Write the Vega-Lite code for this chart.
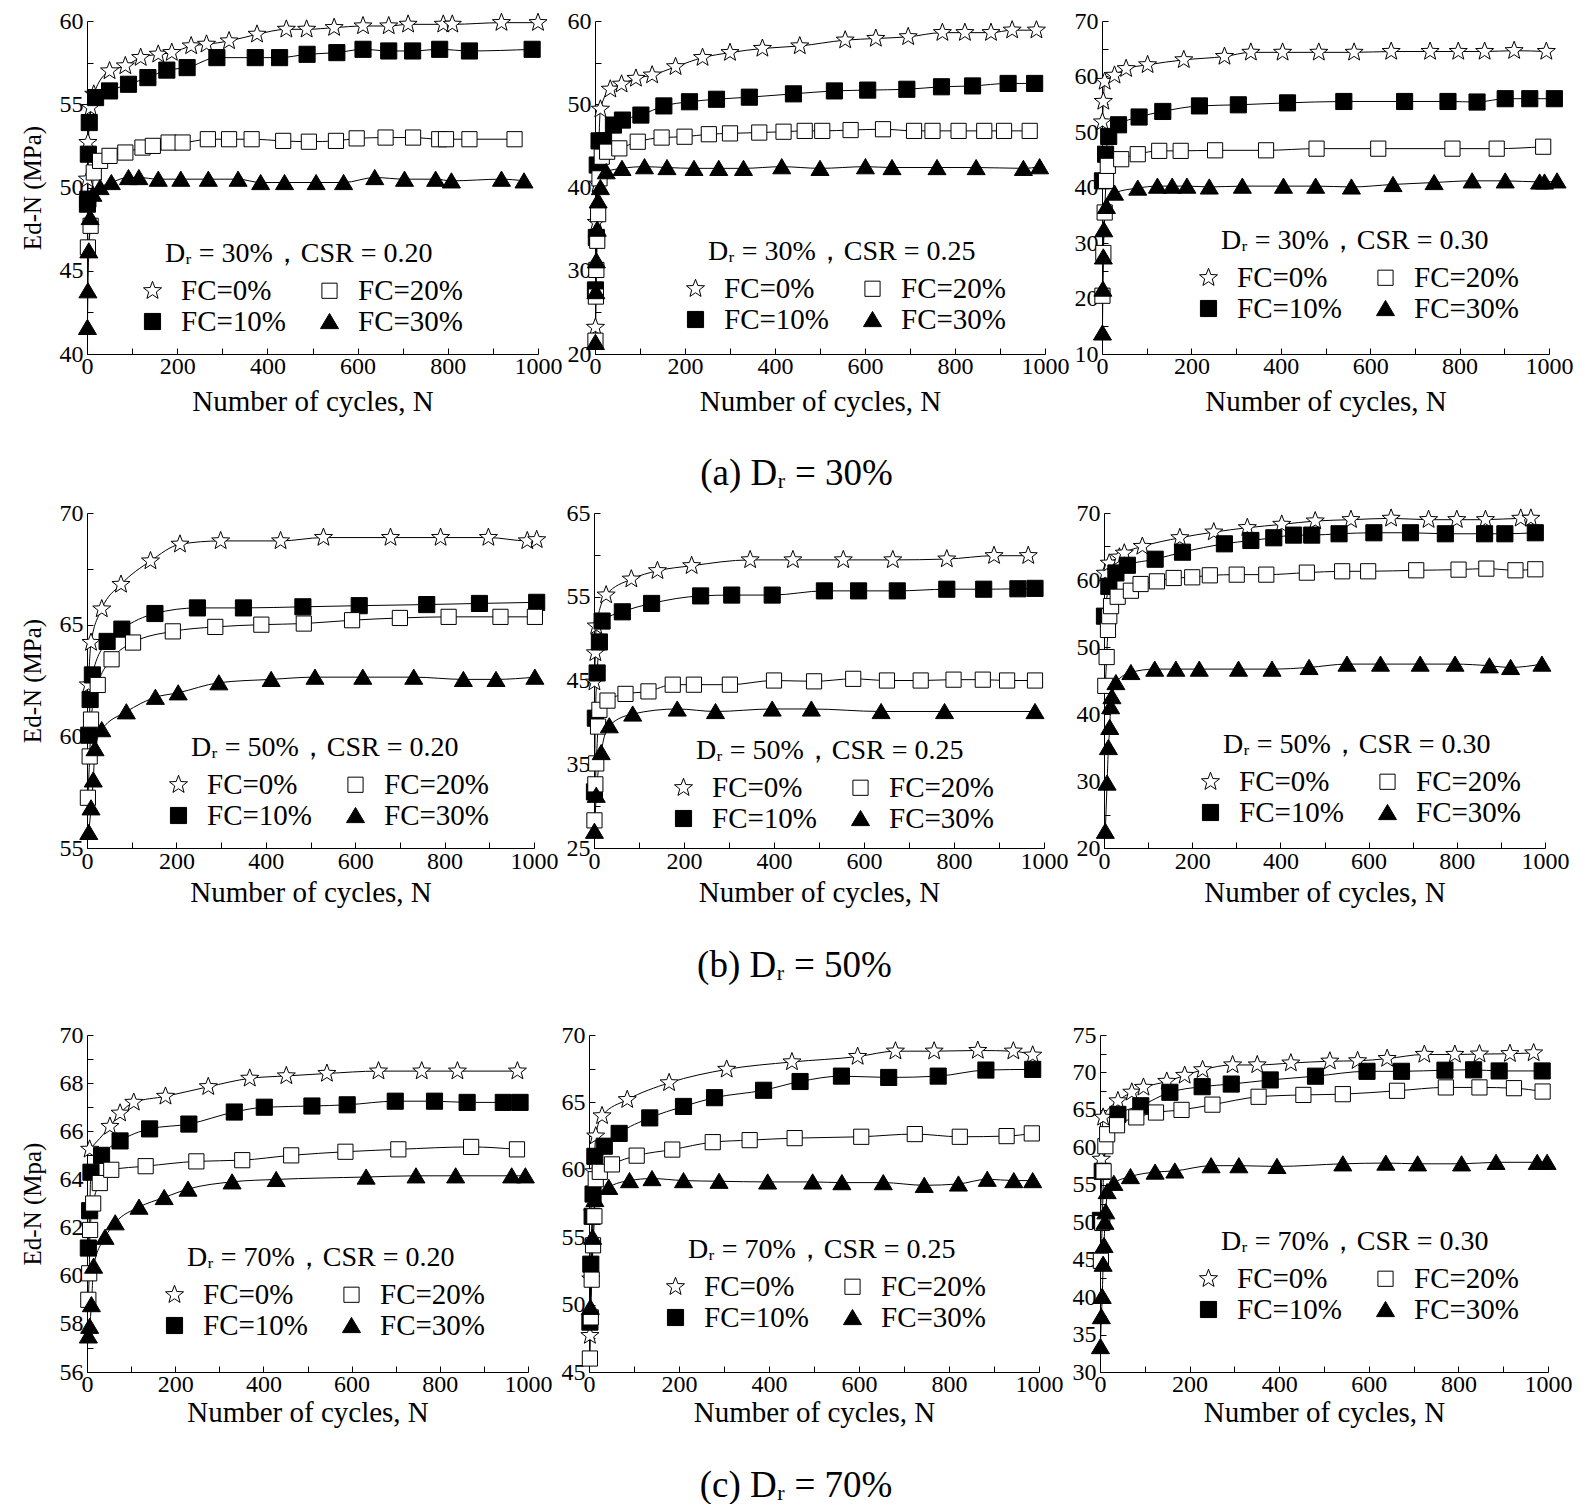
{
  "$schema": "https://vega.github.io/schema/vega-lite/v6.json",
  "background": "white",
  "padding": {"left": 20, "top": 9, "right": 5, "bottom": 0},
  "config": {
    "view": {"stroke": null},
    "font": "Liberation Serif",
    "axis": {
      "domainColor": "black", "domainWidth": 1, "tickColor": "black", "tickWidth": 1, "tickSize": -6,
      "labelFont": "Liberation Serif", "labelFontSize": 24, "labelColor": "black",
      "titleFont": "Liberation Serif", "titleFontSize": 29, "titleFontWeight": "normal", "titleColor": "black",
      "grid": false, "labelOverlap": false, "labelFlush": false
    },
    "axisX": {"labelPadding": 6, "titlePadding": 10},
    "axisY": {"labelPadding": 10, "titlePadding": 14, "titleFontSize": 25},
    "legend": {
      "orient": "none", "columns": 2, "padding": 0, "columnPadding": 29, "rowPadding": 1,
      "symbolSize": 360, "symbolStrokeColor": "black", "symbolStrokeWidth": 1, "symbolOpacity": 1,
      "labelFont": "Liberation Serif", "labelFontSize": 29, "labelColor": "black", "labelOffset": 14, "labelLimit": 250,
      "titleFont": "Liberation Serif", "titleFontSize": 28, "titleFontWeight": "normal", "titleColor": "black",
      "titleAnchor": "start", "titlePadding": 8, "titleLimit": 450
    }
  },
  "data": {"values": [
    {"p":"a1","f":0,"N":1,"E":50.5},{"p":"a1","f":0,"N":2,"E":52.7},{"p":"a1","f":0,"N":8,"E":54.8},{"p":"a1","f":0,"N":15,"E":55.6},{"p":"a1","f":0,"N":50,"E":57.0},{"p":"a1","f":0,"N":85,"E":57.3},{"p":"a1","f":0,"N":119,"E":57.8},{"p":"a1","f":0,"N":158,"E":58.0},{"p":"a1","f":0,"N":188,"E":58.1},{"p":"a1","f":0,"N":231,"E":58.5},{"p":"a1","f":0,"N":265,"E":58.6},{"p":"a1","f":0,"N":315,"E":58.8},{"p":"a1","f":0,"N":377,"E":59.2},{"p":"a1","f":0,"N":442,"E":59.5},{"p":"a1","f":0,"N":487,"E":59.5},{"p":"a1","f":0,"N":548,"E":59.6},{"p":"a1","f":0,"N":612,"E":59.7},{"p":"a1","f":0,"N":669,"E":59.7},{"p":"a1","f":0,"N":712,"E":59.8},{"p":"a1","f":0,"N":790,"E":59.8},{"p":"a1","f":0,"N":810,"E":59.8},{"p":"a1","f":0,"N":919,"E":59.9},{"p":"a1","f":0,"N":1000,"E":59.9},
    {"p":"a1","f":10,"N":1,"E":49.0},{"p":"a1","f":10,"N":2,"E":49.3},{"p":"a1","f":10,"N":3,"E":52.0},{"p":"a1","f":10,"N":5,"E":53.9},{"p":"a1","f":10,"N":19,"E":55.4},{"p":"a1","f":10,"N":50,"E":55.8},{"p":"a1","f":10,"N":92,"E":56.2},{"p":"a1","f":10,"N":135,"E":56.6},{"p":"a1","f":10,"N":177,"E":57.05},{"p":"a1","f":10,"N":222,"E":57.2},{"p":"a1","f":10,"N":288,"E":57.8},{"p":"a1","f":10,"N":373,"E":57.8},{"p":"a1","f":10,"N":427,"E":57.8},{"p":"a1","f":10,"N":488,"E":58.0},{"p":"a1","f":10,"N":554,"E":58.1},{"p":"a1","f":10,"N":612,"E":58.3},{"p":"a1","f":10,"N":669,"E":58.2},{"p":"a1","f":10,"N":722,"E":58.2},{"p":"a1","f":10,"N":782,"E":58.3},{"p":"a1","f":10,"N":848,"E":58.2},{"p":"a1","f":10,"N":987,"E":58.3},
    {"p":"a1","f":20,"N":2,"E":46.4},{"p":"a1","f":20,"N":8,"E":47.7},{"p":"a1","f":20,"N":15,"E":50.9},{"p":"a1","f":20,"N":29,"E":51.6},{"p":"a1","f":20,"N":50,"E":51.9},{"p":"a1","f":20,"N":85,"E":52.1},{"p":"a1","f":20,"N":123,"E":52.4},{"p":"a1","f":20,"N":146,"E":52.5},{"p":"a1","f":20,"N":181,"E":52.7},{"p":"a1","f":20,"N":212,"E":52.7},{"p":"a1","f":20,"N":268,"E":52.9},{"p":"a1","f":20,"N":315,"E":52.9},{"p":"a1","f":20,"N":365,"E":52.9},{"p":"a1","f":20,"N":435,"E":52.8},{"p":"a1","f":20,"N":492,"E":52.75},{"p":"a1","f":20,"N":552,"E":52.8},{"p":"a1","f":20,"N":598,"E":52.95},{"p":"a1","f":20,"N":662,"E":53.0},{"p":"a1","f":20,"N":723,"E":53.0},{"p":"a1","f":20,"N":781,"E":52.9},{"p":"a1","f":20,"N":796,"E":52.9},{"p":"a1","f":20,"N":848,"E":52.9},{"p":"a1","f":20,"N":948,"E":52.9},
    {"p":"a1","f":30,"N":1,"E":41.6},{"p":"a1","f":30,"N":2,"E":43.8},{"p":"a1","f":30,"N":4,"E":46.2},{"p":"a1","f":30,"N":7,"E":48.2},{"p":"a1","f":30,"N":13,"E":49.6},{"p":"a1","f":30,"N":29,"E":50.0},{"p":"a1","f":30,"N":54,"E":50.3},{"p":"a1","f":30,"N":92,"E":50.6},{"p":"a1","f":30,"N":115,"E":50.6},{"p":"a1","f":30,"N":158,"E":50.5},{"p":"a1","f":30,"N":208,"E":50.5},{"p":"a1","f":30,"N":269,"E":50.5},{"p":"a1","f":30,"N":335,"E":50.5},{"p":"a1","f":30,"N":385,"E":50.3},{"p":"a1","f":30,"N":438,"E":50.3},{"p":"a1","f":30,"N":508,"E":50.3},{"p":"a1","f":30,"N":569,"E":50.3},{"p":"a1","f":30,"N":638,"E":50.6},{"p":"a1","f":30,"N":704,"E":50.5},{"p":"a1","f":30,"N":773,"E":50.5},{"p":"a1","f":30,"N":808,"E":50.4},{"p":"a1","f":30,"N":919,"E":50.5},{"p":"a1","f":30,"N":969,"E":50.4},

    {"p":"a2","f":0,"N":1,"E":23.2},{"p":"a2","f":0,"N":3,"E":35.8},{"p":"a2","f":0,"N":6,"E":40.4},{"p":"a2","f":0,"N":12,"E":49.4},{"p":"a2","f":0,"N":34,"E":51.8},{"p":"a2","f":0,"N":59,"E":52.4},{"p":"a2","f":0,"N":91,"E":53.1},{"p":"a2","f":0,"N":127,"E":53.5},{"p":"a2","f":0,"N":179,"E":54.5},{"p":"a2","f":0,"N":239,"E":55.6},{"p":"a2","f":0,"N":300,"E":56.2},{"p":"a2","f":0,"N":372,"E":56.7},{"p":"a2","f":0,"N":455,"E":57.0},{"p":"a2","f":0,"N":556,"E":57.7},{"p":"a2","f":0,"N":624,"E":57.9},{"p":"a2","f":0,"N":696,"E":58.1},{"p":"a2","f":0,"N":772,"E":58.6},{"p":"a2","f":0,"N":822,"E":58.6},{"p":"a2","f":0,"N":880,"E":58.6},{"p":"a2","f":0,"N":927,"E":58.9},{"p":"a2","f":0,"N":981,"E":58.9},
    {"p":"a2","f":10,"N":1,"E":27.7},{"p":"a2","f":10,"N":3,"E":34.0},{"p":"a2","f":10,"N":5,"E":42.7},{"p":"a2","f":10,"N":9,"E":45.6},{"p":"a2","f":10,"N":19,"E":45.6},{"p":"a2","f":10,"N":41,"E":47.5},{"p":"a2","f":10,"N":61,"E":48.1},{"p":"a2","f":10,"N":102,"E":48.7},{"p":"a2","f":10,"N":153,"E":49.8},{"p":"a2","f":10,"N":210,"E":50.3},{"p":"a2","f":10,"N":270,"E":50.6},{"p":"a2","f":10,"N":343,"E":50.85},{"p":"a2","f":10,"N":441,"E":51.25},{"p":"a2","f":10,"N":532,"E":51.6},{"p":"a2","f":10,"N":606,"E":51.7},{"p":"a2","f":10,"N":693,"E":51.8},{"p":"a2","f":10,"N":770,"E":52.1},{"p":"a2","f":10,"N":839,"E":52.2},{"p":"a2","f":10,"N":918,"E":52.5},{"p":"a2","f":10,"N":977,"E":52.5},
    {"p":"a2","f":20,"N":1,"E":21.6},{"p":"a2","f":20,"N":2,"E":26.9},{"p":"a2","f":20,"N":3,"E":30.1},{"p":"a2","f":20,"N":5,"E":33.6},{"p":"a2","f":20,"N":7,"E":36.8},{"p":"a2","f":20,"N":10,"E":41.1},{"p":"a2","f":20,"N":15,"E":43.7},{"p":"a2","f":20,"N":27,"E":44.3},{"p":"a2","f":20,"N":54,"E":44.7},{"p":"a2","f":20,"N":95,"E":45.5},{"p":"a2","f":20,"N":148,"E":46.0},{"p":"a2","f":20,"N":199,"E":46.1},{"p":"a2","f":20,"N":253,"E":46.4},{"p":"a2","f":20,"N":300,"E":46.5},{"p":"a2","f":20,"N":365,"E":46.6},{"p":"a2","f":20,"N":419,"E":46.7},{"p":"a2","f":20,"N":466,"E":46.8},{"p":"a2","f":20,"N":505,"E":46.8},{"p":"a2","f":20,"N":568,"E":46.9},{"p":"a2","f":20,"N":640,"E":47.0},{"p":"a2","f":20,"N":709,"E":46.8},{"p":"a2","f":20,"N":750,"E":46.8},{"p":"a2","f":20,"N":808,"E":46.8},{"p":"a2","f":20,"N":865,"E":46.8},{"p":"a2","f":20,"N":909,"E":46.8},{"p":"a2","f":20,"N":966,"E":46.8},
    {"p":"a2","f":30,"N":1,"E":21.4},{"p":"a2","f":30,"N":2,"E":27.5},{"p":"a2","f":30,"N":3,"E":31.2},{"p":"a2","f":30,"N":5,"E":35.0},{"p":"a2","f":30,"N":7,"E":38.4},{"p":"a2","f":30,"N":12,"E":40.0},{"p":"a2","f":30,"N":25,"E":41.9},{"p":"a2","f":30,"N":60,"E":42.3},{"p":"a2","f":30,"N":110,"E":42.5},{"p":"a2","f":30,"N":160,"E":42.4},{"p":"a2","f":30,"N":220,"E":42.3},{"p":"a2","f":30,"N":275,"E":42.3},{"p":"a2","f":30,"N":330,"E":42.3},{"p":"a2","f":30,"N":415,"E":42.5},{"p":"a2","f":30,"N":500,"E":42.3},{"p":"a2","f":30,"N":601,"E":42.5},{"p":"a2","f":30,"N":660,"E":42.4},{"p":"a2","f":30,"N":760,"E":42.4},{"p":"a2","f":30,"N":847,"E":42.4},{"p":"a2","f":30,"N":952,"E":42.3},{"p":"a2","f":30,"N":988,"E":42.5},

    {"p":"a3","f":0,"N":1,"E":51.8},{"p":"a3","f":0,"N":3,"E":55.5},{"p":"a3","f":0,"N":6,"E":59.1},{"p":"a3","f":0,"N":28,"E":60.2},{"p":"a3","f":0,"N":54,"E":61.4},{"p":"a3","f":0,"N":102,"E":62.1},{"p":"a3","f":0,"N":183,"E":63.0},{"p":"a3","f":0,"N":274,"E":63.6},{"p":"a3","f":0,"N":333,"E":64.35},{"p":"a3","f":0,"N":404,"E":64.35},{"p":"a3","f":0,"N":485,"E":64.35},{"p":"a3","f":0,"N":564,"E":64.35},{"p":"a3","f":0,"N":647,"E":64.5},{"p":"a3","f":0,"N":734,"E":64.5},{"p":"a3","f":0,"N":797,"E":64.5},{"p":"a3","f":0,"N":856,"E":64.5},{"p":"a3","f":0,"N":922,"E":64.65},{"p":"a3","f":0,"N":994,"E":64.5},
    {"p":"a3","f":10,"N":1,"E":41.2},{"p":"a3","f":10,"N":8,"E":46.0},{"p":"a3","f":10,"N":15,"E":49.2},{"p":"a3","f":10,"N":37,"E":51.3},{"p":"a3","f":10,"N":83,"E":52.7},{"p":"a3","f":10,"N":136,"E":53.7},{"p":"a3","f":10,"N":218,"E":54.7},{"p":"a3","f":10,"N":305,"E":54.9},{"p":"a3","f":10,"N":415,"E":55.25},{"p":"a3","f":10,"N":541,"E":55.5},{"p":"a3","f":10,"N":677,"E":55.5},{"p":"a3","f":10,"N":774,"E":55.5},{"p":"a3","f":10,"N":839,"E":55.4},{"p":"a3","f":10,"N":902,"E":56.0},{"p":"a3","f":10,"N":957,"E":56.0},{"p":"a3","f":10,"N":1012,"E":56.0},
    {"p":"a3","f":20,"N":1,"E":20.5},{"p":"a3","f":20,"N":3,"E":28.2},{"p":"a3","f":20,"N":6,"E":35.5},{"p":"a3","f":20,"N":9,"E":41.2},{"p":"a3","f":20,"N":13,"E":43.9},{"p":"a3","f":20,"N":43,"E":45.1},{"p":"a3","f":20,"N":80,"E":46.0},{"p":"a3","f":20,"N":128,"E":46.6},{"p":"a3","f":20,"N":176,"E":46.6},{"p":"a3","f":20,"N":253,"E":46.7},{"p":"a3","f":20,"N":367,"E":46.7},{"p":"a3","f":20,"N":480,"E":47.0},{"p":"a3","f":20,"N":618,"E":47.0},{"p":"a3","f":20,"N":784,"E":47.0},{"p":"a3","f":20,"N":883,"E":47.0},{"p":"a3","f":20,"N":987,"E":47.35},
    {"p":"a3","f":30,"N":1,"E":13.8},{"p":"a3","f":30,"N":2,"E":21.7},{"p":"a3","f":30,"N":3,"E":27.5},{"p":"a3","f":30,"N":4,"E":32.4},{"p":"a3","f":30,"N":10,"E":36.6},{"p":"a3","f":30,"N":28,"E":39.0},{"p":"a3","f":30,"N":80,"E":39.9},{"p":"a3","f":30,"N":124,"E":40.25},{"p":"a3","f":30,"N":157,"E":40.25},{"p":"a3","f":30,"N":190,"E":40.25},{"p":"a3","f":30,"N":240,"E":40.1},{"p":"a3","f":30,"N":314,"E":40.25},{"p":"a3","f":30,"N":406,"E":40.25},{"p":"a3","f":30,"N":478,"E":40.25},{"p":"a3","f":30,"N":558,"E":40.1},{"p":"a3","f":30,"N":651,"E":40.55},{"p":"a3","f":30,"N":743,"E":40.9},{"p":"a3","f":30,"N":828,"E":41.2},{"p":"a3","f":30,"N":902,"E":41.2},{"p":"a3","f":30,"N":979,"E":41.0},{"p":"a3","f":30,"N":990,"E":41.0},{"p":"a3","f":30,"N":1018,"E":41.2},

    {"p":"b1","f":0,"N":3,"E":62.3},{"p":"b1","f":0,"N":9,"E":64.2},{"p":"b1","f":0,"N":33,"E":65.7},{"p":"b1","f":0,"N":76,"E":66.8},{"p":"b1","f":0,"N":142,"E":67.85},{"p":"b1","f":0,"N":208,"E":68.6},{"p":"b1","f":0,"N":299,"E":68.75},{"p":"b1","f":0,"N":433,"E":68.75},{"p":"b1","f":0,"N":529,"E":68.9},{"p":"b1","f":0,"N":679,"E":68.9},{"p":"b1","f":0,"N":791,"E":68.9},{"p":"b1","f":0,"N":898,"E":68.9},{"p":"b1","f":0,"N":985,"E":68.75},{"p":"b1","f":0,"N":1006,"E":68.8},
    {"p":"b1","f":10,"N":4,"E":60.05},{"p":"b1","f":10,"N":7,"E":61.65},{"p":"b1","f":10,"N":12,"E":62.75},{"p":"b1","f":10,"N":45,"E":64.25},{"p":"b1","f":10,"N":78,"E":64.8},{"p":"b1","f":10,"N":152,"E":65.5},{"p":"b1","f":10,"N":247,"E":65.75},{"p":"b1","f":10,"N":350,"E":65.75},{"p":"b1","f":10,"N":483,"E":65.8},{"p":"b1","f":10,"N":609,"E":65.85},{"p":"b1","f":10,"N":760,"E":65.9},{"p":"b1","f":10,"N":878,"E":65.95},{"p":"b1","f":10,"N":1006,"E":66.0},
    {"p":"b1","f":20,"N":2,"E":57.25},{"p":"b1","f":20,"N":6,"E":59.1},{"p":"b1","f":20,"N":9,"E":60.75},{"p":"b1","f":20,"N":24,"E":62.3},{"p":"b1","f":20,"N":55,"E":63.45},{"p":"b1","f":20,"N":103,"E":64.2},{"p":"b1","f":20,"N":192,"E":64.7},{"p":"b1","f":20,"N":287,"E":64.9},{"p":"b1","f":20,"N":390,"E":65.0},{"p":"b1","f":20,"N":485,"E":65.05},{"p":"b1","f":20,"N":593,"E":65.2},{"p":"b1","f":20,"N":700,"E":65.3},{"p":"b1","f":20,"N":809,"E":65.35},{"p":"b1","f":20,"N":925,"E":65.35},{"p":"b1","f":20,"N":1002,"E":65.35},
    {"p":"b1","f":30,"N":4,"E":55.7},{"p":"b1","f":30,"N":9,"E":56.8},{"p":"b1","f":30,"N":14,"E":58.05},{"p":"b1","f":30,"N":18,"E":59.45},{"p":"b1","f":30,"N":33,"E":60.3},{"p":"b1","f":30,"N":88,"E":61.1},{"p":"b1","f":30,"N":153,"E":61.75},{"p":"b1","f":30,"N":204,"E":61.95},{"p":"b1","f":30,"N":295,"E":62.4},{"p":"b1","f":30,"N":412,"E":62.55},{"p":"b1","f":30,"N":510,"E":62.65},{"p":"b1","f":30,"N":617,"E":62.65},{"p":"b1","f":30,"N":731,"E":62.65},{"p":"b1","f":30,"N":842,"E":62.55},{"p":"b1","f":30,"N":915,"E":62.55},{"p":"b1","f":30,"N":1002,"E":62.65},

    {"p":"b2","f":0,"N":1,"E":44.8},{"p":"b2","f":0,"N":3,"E":48.3},{"p":"b2","f":0,"N":5,"E":51.5},{"p":"b2","f":0,"N":27,"E":55.2},{"p":"b2","f":0,"N":83,"E":57.1},{"p":"b2","f":0,"N":141,"E":58.1},{"p":"b2","f":0,"N":217,"E":58.7},{"p":"b2","f":0,"N":347,"E":59.4},{"p":"b2","f":0,"N":442,"E":59.4},{"p":"b2","f":0,"N":554,"E":59.4},{"p":"b2","f":0,"N":664,"E":59.4},{"p":"b2","f":0,"N":784,"E":59.5},{"p":"b2","f":0,"N":889,"E":59.9},{"p":"b2","f":0,"N":965,"E":59.9},
    {"p":"b2","f":10,"N":1,"E":31.7},{"p":"b2","f":10,"N":3,"E":40.5},{"p":"b2","f":10,"N":7,"E":45.9},{"p":"b2","f":10,"N":12,"E":49.6},{"p":"b2","f":10,"N":18,"E":52.1},{"p":"b2","f":10,"N":63,"E":53.2},{"p":"b2","f":10,"N":128,"E":54.2},{"p":"b2","f":10,"N":237,"E":55.1},{"p":"b2","f":10,"N":306,"E":55.2},{"p":"b2","f":10,"N":396,"E":55.2},{"p":"b2","f":10,"N":512,"E":55.7},{"p":"b2","f":10,"N":588,"E":55.7},{"p":"b2","f":10,"N":674,"E":55.7},{"p":"b2","f":10,"N":784,"E":55.9},{"p":"b2","f":10,"N":866,"E":55.9},{"p":"b2","f":10,"N":942,"E":55.95},{"p":"b2","f":10,"N":980,"E":56.0},
    {"p":"b2","f":20,"N":1,"E":28.3},{"p":"b2","f":20,"N":3,"E":32.6},{"p":"b2","f":20,"N":5,"E":35.1},{"p":"b2","f":20,"N":9,"E":39.5},{"p":"b2","f":20,"N":12,"E":41.5},{"p":"b2","f":20,"N":30,"E":42.6},{"p":"b2","f":20,"N":70,"E":43.4},{"p":"b2","f":20,"N":121,"E":43.7},{"p":"b2","f":20,"N":175,"E":44.5},{"p":"b2","f":20,"N":222,"E":44.5},{"p":"b2","f":20,"N":302,"E":44.5},{"p":"b2","f":20,"N":400,"E":45.0},{"p":"b2","f":20,"N":489,"E":44.9},{"p":"b2","f":20,"N":576,"E":45.2},{"p":"b2","f":20,"N":651,"E":45.0},{"p":"b2","f":20,"N":726,"E":45.0},{"p":"b2","f":20,"N":799,"E":45.1},{"p":"b2","f":20,"N":864,"E":45.1},{"p":"b2","f":20,"N":918,"E":45.0},{"p":"b2","f":20,"N":980,"E":45.0},
    {"p":"b2","f":30,"N":1,"E":27.0},{"p":"b2","f":30,"N":5,"E":31.3},{"p":"b2","f":30,"N":16,"E":36.4},{"p":"b2","f":30,"N":34,"E":39.6},{"p":"b2","f":30,"N":86,"E":41.0},{"p":"b2","f":30,"N":185,"E":41.6},{"p":"b2","f":30,"N":270,"E":41.3},{"p":"b2","f":30,"N":396,"E":41.6},{"p":"b2","f":30,"N":483,"E":41.6},{"p":"b2","f":30,"N":638,"E":41.3},{"p":"b2","f":30,"N":779,"E":41.3},{"p":"b2","f":30,"N":980,"E":41.3},

    {"p":"b3","f":0,"N":3,"E":61.0},{"p":"b3","f":0,"N":12,"E":62.5},{"p":"b3","f":0,"N":35,"E":63.4},{"p":"b3","f":0,"N":46,"E":64.0},{"p":"b3","f":0,"N":87,"E":65.0},{"p":"b3","f":0,"N":172,"E":66.3},{"p":"b3","f":0,"N":249,"E":67.15},{"p":"b3","f":0,"N":325,"E":67.8},{"p":"b3","f":0,"N":403,"E":68.3},{"p":"b3","f":0,"N":479,"E":68.8},{"p":"b3","f":0,"N":560,"E":69.0},{"p":"b3","f":0,"N":651,"E":69.2},{"p":"b3","f":0,"N":736,"E":69.0},{"p":"b3","f":0,"N":800,"E":69.0},{"p":"b3","f":0,"N":865,"E":69.0},{"p":"b3","f":0,"N":945,"E":69.2},{"p":"b3","f":0,"N":968,"E":69.2},
    {"p":"b3","f":10,"N":1,"E":54.6},{"p":"b3","f":10,"N":11,"E":59.05},{"p":"b3","f":10,"N":27,"E":61.05},{"p":"b3","f":10,"N":53,"E":62.2},{"p":"b3","f":10,"N":116,"E":63.1},{"p":"b3","f":10,"N":178,"E":64.15},{"p":"b3","f":10,"N":273,"E":65.4},{"p":"b3","f":10,"N":333,"E":65.9},{"p":"b3","f":10,"N":385,"E":66.3},{"p":"b3","f":10,"N":430,"E":66.7},{"p":"b3","f":10,"N":471,"E":66.7},{"p":"b3","f":10,"N":533,"E":66.9},{"p":"b3","f":10,"N":612,"E":67.05},{"p":"b3","f":10,"N":695,"E":67.05},{"p":"b3","f":10,"N":774,"E":66.9},{"p":"b3","f":10,"N":863,"E":66.9},{"p":"b3","f":10,"N":909,"E":66.9},{"p":"b3","f":10,"N":978,"E":67.05},
    {"p":"b3","f":20,"N":3,"E":44.2},{"p":"b3","f":20,"N":6,"E":48.5},{"p":"b3","f":20,"N":9,"E":52.55},{"p":"b3","f":20,"N":12,"E":54.6},{"p":"b3","f":20,"N":16,"E":56.1},{"p":"b3","f":20,"N":31,"E":57.5},{"p":"b3","f":20,"N":61,"E":58.4},{"p":"b3","f":20,"N":83,"E":59.4},{"p":"b3","f":20,"N":120,"E":59.8},{"p":"b3","f":20,"N":158,"E":60.3},{"p":"b3","f":20,"N":200,"E":60.4},{"p":"b3","f":20,"N":240,"E":60.7},{"p":"b3","f":20,"N":301,"E":60.8},{"p":"b3","f":20,"N":368,"E":60.8},{"p":"b3","f":20,"N":460,"E":61.1},{"p":"b3","f":20,"N":540,"E":61.3},{"p":"b3","f":20,"N":599,"E":61.3},{"p":"b3","f":20,"N":708,"E":61.45},{"p":"b3","f":20,"N":804,"E":61.55},{"p":"b3","f":20,"N":867,"E":61.7},{"p":"b3","f":20,"N":933,"E":61.45},{"p":"b3","f":20,"N":978,"E":61.6},
    {"p":"b3","f":30,"N":3,"E":22.5},{"p":"b3","f":30,"N":7,"E":29.7},{"p":"b3","f":30,"N":10,"E":35.0},{"p":"b3","f":30,"N":13,"E":38.0},{"p":"b3","f":30,"N":15,"E":41.1},{"p":"b3","f":30,"N":18,"E":42.6},{"p":"b3","f":30,"N":27,"E":44.7},{"p":"b3","f":30,"N":61,"E":46.2},{"p":"b3","f":30,"N":115,"E":46.7},{"p":"b3","f":30,"N":163,"E":46.7},{"p":"b3","f":30,"N":216,"E":46.7},{"p":"b3","f":30,"N":305,"E":46.7},{"p":"b3","f":30,"N":381,"E":46.7},{"p":"b3","f":30,"N":465,"E":46.95},{"p":"b3","f":30,"N":551,"E":47.45},{"p":"b3","f":30,"N":627,"E":47.45},{"p":"b3","f":30,"N":717,"E":47.45},{"p":"b3","f":30,"N":796,"E":47.45},{"p":"b3","f":30,"N":874,"E":47.2},{"p":"b3","f":30,"N":922,"E":46.95},{"p":"b3","f":30,"N":993,"E":47.45},

    {"p":"c1","f":0,"N":6,"E":65.25},{"p":"c1","f":0,"N":52,"E":66.2},{"p":"c1","f":0,"N":75,"E":66.75},{"p":"c1","f":0,"N":106,"E":67.2},{"p":"c1","f":0,"N":178,"E":67.45},{"p":"c1","f":0,"N":275,"E":67.85},{"p":"c1","f":0,"N":369,"E":68.2},{"p":"c1","f":0,"N":452,"E":68.3},{"p":"c1","f":0,"N":544,"E":68.4},{"p":"c1","f":0,"N":661,"E":68.5},{"p":"c1","f":0,"N":759,"E":68.5},{"p":"c1","f":0,"N":840,"E":68.5},{"p":"c1","f":0,"N":976,"E":68.5},
    {"p":"c1","f":10,"N":3,"E":61.15},{"p":"c1","f":10,"N":6,"E":62.7},{"p":"c1","f":10,"N":9,"E":64.3},{"p":"c1","f":10,"N":33,"E":65.0},{"p":"c1","f":10,"N":75,"E":65.6},{"p":"c1","f":10,"N":142,"E":66.1},{"p":"c1","f":10,"N":231,"E":66.3},{"p":"c1","f":10,"N":334,"E":66.8},{"p":"c1","f":10,"N":402,"E":67.0},{"p":"c1","f":10,"N":510,"E":67.05},{"p":"c1","f":10,"N":590,"E":67.1},{"p":"c1","f":10,"N":699,"E":67.25},{"p":"c1","f":10,"N":788,"E":67.25},{"p":"c1","f":10,"N":862,"E":67.2},{"p":"c1","f":10,"N":944,"E":67.2},{"p":"c1","f":10,"N":982,"E":67.2},
    {"p":"c1","f":20,"N":3,"E":59.0},{"p":"c1","f":20,"N":5,"E":60.1},{"p":"c1","f":20,"N":7,"E":61.9},{"p":"c1","f":20,"N":14,"E":63.0},{"p":"c1","f":20,"N":29,"E":63.85},{"p":"c1","f":20,"N":55,"E":64.4},{"p":"c1","f":20,"N":133,"E":64.55},{"p":"c1","f":20,"N":248,"E":64.75},{"p":"c1","f":20,"N":352,"E":64.8},{"p":"c1","f":20,"N":463,"E":65.0},{"p":"c1","f":20,"N":586,"E":65.15},{"p":"c1","f":20,"N":706,"E":65.25},{"p":"c1","f":20,"N":871,"E":65.35},{"p":"c1","f":20,"N":975,"E":65.25},
    {"p":"c1","f":30,"N":3,"E":57.5},{"p":"c1","f":30,"N":6,"E":57.9},{"p":"c1","f":30,"N":10,"E":58.8},{"p":"c1","f":30,"N":15,"E":60.4},{"p":"c1","f":30,"N":41,"E":61.6},{"p":"c1","f":30,"N":64,"E":62.2},{"p":"c1","f":30,"N":118,"E":62.85},{"p":"c1","f":30,"N":175,"E":63.25},{"p":"c1","f":30,"N":229,"E":63.6},{"p":"c1","f":30,"N":329,"E":63.9},{"p":"c1","f":30,"N":429,"E":64.0},{"p":"c1","f":30,"N":633,"E":64.1},{"p":"c1","f":30,"N":746,"E":64.15},{"p":"c1","f":30,"N":836,"E":64.15},{"p":"c1","f":30,"N":963,"E":64.15},{"p":"c1","f":30,"N":994,"E":64.15},

    {"p":"c2","f":0,"N":2,"E":47.7},{"p":"c2","f":0,"N":4,"E":51.9},{"p":"c2","f":0,"N":8,"E":56.8},{"p":"c2","f":0,"N":11,"E":59.85},{"p":"c2","f":0,"N":15,"E":62.5},{"p":"c2","f":0,"N":29,"E":64.0},{"p":"c2","f":0,"N":85,"E":65.2},{"p":"c2","f":0,"N":178,"E":66.45},{"p":"c2","f":0,"N":306,"E":67.45},{"p":"c2","f":0,"N":451,"E":68.0},{"p":"c2","f":0,"N":597,"E":68.4},{"p":"c2","f":0,"N":681,"E":68.8},{"p":"c2","f":0,"N":767,"E":68.8},{"p":"c2","f":0,"N":864,"E":68.85},{"p":"c2","f":0,"N":943,"E":68.8},{"p":"c2","f":0,"N":986,"E":68.5},
    {"p":"c2","f":10,"N":2,"E":48.7},{"p":"c2","f":10,"N":4,"E":53.0},{"p":"c2","f":10,"N":7,"E":56.55},{"p":"c2","f":10,"N":9,"E":58.2},{"p":"c2","f":10,"N":13,"E":61.0},{"p":"c2","f":10,"N":34,"E":61.75},{"p":"c2","f":10,"N":67,"E":62.7},{"p":"c2","f":10,"N":135,"E":63.85},{"p":"c2","f":10,"N":210,"E":64.7},{"p":"c2","f":10,"N":279,"E":65.35},{"p":"c2","f":10,"N":388,"E":65.9},{"p":"c2","f":10,"N":469,"E":66.55},{"p":"c2","f":10,"N":561,"E":66.95},{"p":"c2","f":10,"N":666,"E":66.85},{"p":"c2","f":10,"N":776,"E":66.95},{"p":"c2","f":10,"N":882,"E":67.4},{"p":"c2","f":10,"N":986,"E":67.45},
    {"p":"c2","f":20,"N":2,"E":46.0},{"p":"c2","f":20,"N":4,"E":49.05},{"p":"c2","f":20,"N":6,"E":51.85},{"p":"c2","f":20,"N":9,"E":54.4},{"p":"c2","f":20,"N":12,"E":56.55},{"p":"c2","f":20,"N":15,"E":59.3},{"p":"c2","f":20,"N":24,"E":59.85},{"p":"c2","f":20,"N":51,"E":60.4},{"p":"c2","f":20,"N":106,"E":61.05},{"p":"c2","f":20,"N":185,"E":61.5},{"p":"c2","f":20,"N":275,"E":62.05},{"p":"c2","f":20,"N":357,"E":62.2},{"p":"c2","f":20,"N":457,"E":62.35},{"p":"c2","f":20,"N":605,"E":62.45},{"p":"c2","f":20,"N":724,"E":62.65},{"p":"c2","f":20,"N":824,"E":62.45},{"p":"c2","f":20,"N":928,"E":62.5},{"p":"c2","f":20,"N":984,"E":62.7},
    {"p":"c2","f":30,"N":3,"E":49.8},{"p":"c2","f":30,"N":8,"E":55.0},{"p":"c2","f":30,"N":13,"E":57.8},{"p":"c2","f":30,"N":44,"E":58.7},{"p":"c2","f":30,"N":90,"E":59.2},{"p":"c2","f":30,"N":140,"E":59.35},{"p":"c2","f":30,"N":210,"E":59.2},{"p":"c2","f":30,"N":289,"E":59.15},{"p":"c2","f":30,"N":397,"E":59.1},{"p":"c2","f":30,"N":497,"E":59.1},{"p":"c2","f":30,"N":562,"E":59.05},{"p":"c2","f":30,"N":654,"E":59.05},{"p":"c2","f":30,"N":745,"E":58.85},{"p":"c2","f":30,"N":821,"E":58.95},{"p":"c2","f":30,"N":885,"E":59.3},{"p":"c2","f":30,"N":944,"E":59.2},{"p":"c2","f":30,"N":986,"E":59.2},

    {"p":"c3","f":0,"N":3,"E":58.4},{"p":"c3","f":0,"N":7,"E":64.0},{"p":"c3","f":0,"N":40,"E":66.2},{"p":"c3","f":0,"N":71,"E":67.35},{"p":"c3","f":0,"N":97,"E":68.0},{"p":"c3","f":0,"N":149,"E":68.8},{"p":"c3","f":0,"N":189,"E":69.6},{"p":"c3","f":0,"N":229,"E":70.35},{"p":"c3","f":0,"N":296,"E":71.0},{"p":"c3","f":0,"N":351,"E":71.0},{"p":"c3","f":0,"N":426,"E":71.25},{"p":"c3","f":0,"N":513,"E":71.5},{"p":"c3","f":0,"N":575,"E":71.55},{"p":"c3","f":0,"N":641,"E":71.85},{"p":"c3","f":0,"N":724,"E":72.4},{"p":"c3","f":0,"N":792,"E":72.4},{"p":"c3","f":0,"N":847,"E":72.45},{"p":"c3","f":0,"N":915,"E":72.5},{"p":"c3","f":0,"N":968,"E":72.6},
    {"p":"c3","f":10,"N":1,"E":50.25},{"p":"c3","f":10,"N":5,"E":56.8},{"p":"c3","f":10,"N":40,"E":64.4},{"p":"c3","f":10,"N":91,"E":65.55},{"p":"c3","f":10,"N":156,"E":67.35},{"p":"c3","f":10,"N":228,"E":68.1},{"p":"c3","f":10,"N":293,"E":68.45},{"p":"c3","f":10,"N":380,"E":69.0},{"p":"c3","f":10,"N":481,"E":69.5},{"p":"c3","f":10,"N":596,"E":70.15},{"p":"c3","f":10,"N":673,"E":70.15},{"p":"c3","f":10,"N":770,"E":70.3},{"p":"c3","f":10,"N":834,"E":70.35},{"p":"c3","f":10,"N":891,"E":70.2},{"p":"c3","f":10,"N":987,"E":70.2},
    {"p":"c3","f":20,"N":2,"E":44.85},{"p":"c3","f":20,"N":5,"E":49.9},{"p":"c3","f":20,"N":8,"E":56.8},{"p":"c3","f":20,"N":12,"E":60.15},{"p":"c3","f":20,"N":16,"E":61.75},{"p":"c3","f":20,"N":38,"E":62.95},{"p":"c3","f":20,"N":81,"E":64.0},{"p":"c3","f":20,"N":125,"E":64.65},{"p":"c3","f":20,"N":182,"E":65.0},{"p":"c3","f":20,"N":251,"E":65.7},{"p":"c3","f":20,"N":354,"E":66.75},{"p":"c3","f":20,"N":454,"E":67.0},{"p":"c3","f":20,"N":542,"E":67.1},{"p":"c3","f":20,"N":663,"E":67.55},{"p":"c3","f":20,"N":772,"E":68.0},{"p":"c3","f":20,"N":847,"E":68.0},{"p":"c3","f":20,"N":924,"E":67.9},{"p":"c3","f":20,"N":988,"E":67.45},
    {"p":"c3","f":30,"N":1,"E":33.4},{"p":"c3","f":30,"N":3,"E":37.4},{"p":"c3","f":30,"N":5,"E":40.1},{"p":"c3","f":30,"N":7,"E":44.4},{"p":"c3","f":30,"N":9,"E":46.9},{"p":"c3","f":30,"N":11,"E":50.0},{"p":"c3","f":30,"N":13,"E":51.4},{"p":"c3","f":30,"N":16,"E":54.1},{"p":"c3","f":30,"N":31,"E":55.2},{"p":"c3","f":30,"N":68,"E":56.1},{"p":"c3","f":30,"N":123,"E":56.7},{"p":"c3","f":30,"N":167,"E":56.85},{"p":"c3","f":30,"N":248,"E":57.55},{"p":"c3","f":30,"N":310,"E":57.55},{"p":"c3","f":30,"N":395,"E":57.45},{"p":"c3","f":30,"N":542,"E":57.8},{"p":"c3","f":30,"N":638,"E":57.9},{"p":"c3","f":30,"N":709,"E":57.8},{"p":"c3","f":30,"N":807,"E":57.8},{"p":"c3","f":30,"N":884,"E":58.0},{"p":"c3","f":30,"N":976,"E":58.0},{"p":"c3","f":30,"N":998,"E":58.0}
  ]},
  "spacing": 9,
  "resolve": {"scale": {"shape": "independent", "fill": "independent"}},
  "vconcat": [
    {
      "title": {"text": "(a) Dᵣ = 30%", "orient": "bottom", "anchor": "middle", "offset": 40, "font": "Liberation Serif", "fontSize": 37, "fontWeight": "normal", "color": "black"},
      "spacing": 57, "bounds": "flush",
      "resolve": {"scale": {"shape": "independent", "fill": "independent"}},
      "hconcat": [
        {"width": 451, "height": 333, "transform": [{"filter": "datum.p === 'a1'"}],
          "encoding": {
            "x": {"field": "N", "type": "quantitative", "scale": {"domain": [0, 1000]}, "axis": {"values": [0,100,200,300,400,500,600,700,800,900,1000], "format": "d", "labelExpr": "datum.value % 200 === 0 ? datum.label : ''", "labelPadding": 6, "titlePadding": 9, "title": "Number of cycles, N"}},
            "y": {"field": "E", "type": "quantitative", "scale": {"domain": [40, 60]}, "axis": {"values": [40,42.5,45,47.5,50,52.5,55,57.5,60], "format": "d", "labelExpr": "datum.value % 5 === 0 ? datum.label : ''", "title": "Ed-N (MPa)"}}
          },
          "layer": [
            {"mark": {"type": "line", "interpolate": "monotone", "color": "black", "strokeWidth": 1, "clip": false}, "encoding": {"detail": {"field": "f", "type": "nominal"}}},
            {"mark": {"type": "point", "filled": true, "stroke": "black", "strokeWidth": 1, "opacity": 1, "size": 360, "clip": false},
              "encoding": {
                "shape": {"field": "f", "type": "nominal", "scale": {"domain": [0, 10, 20, 30], "range": ["M0,-1L0.247,-0.34L0.951,-0.309L0.399,0.13L0.588,0.809L0,0.42L-0.588,0.809L-0.399,0.13L-0.951,-0.309L-0.247,-0.34Z", "M-0.85,-0.85L0.85,-0.85L0.85,0.85L-0.85,0.85Z", "M-0.8,-0.8L0.8,-0.8L0.8,0.8L-0.8,0.8Z", "M0,-0.85L0.95,0.75L-0.95,0.75Z"]},
                  "legend": {"title": "Dᵣ = 30%，CSR = 0.20", "legendX": 51, "legendY": 219, "labelExpr": "'FC=' + datum.label + '%'", "encode": {"symbols": {"update": {"stroke": {"value": "black"}, "strokeWidth": {"value": 1}}}, "title": {"update": {"dx": {"value": 27}}}}}},
                "fill": {"field": "f", "type": "nominal", "scale": {"domain": [0, 10, 20, 30], "range": ["white", "black", "white", "black"]},
                  "legend": {"title": "Dᵣ = 30%，CSR = 0.20", "legendX": 51, "legendY": 219, "labelExpr": "'FC=' + datum.label + '%'", "encode": {"symbols": {"update": {"stroke": {"value": "black"}, "strokeWidth": {"value": 1}}}, "title": {"update": {"dx": {"value": 27}}}}}}
              }}
          ]},
        {"width": 450, "height": 333, "transform": [{"filter": "datum.p === 'a2'"}],
          "encoding": {
            "x": {"field": "N", "type": "quantitative", "scale": {"domain": [0, 1000]}, "axis": {"values": [0,100,200,300,400,500,600,700,800,900,1000], "format": "d", "labelExpr": "datum.value % 200 === 0 ? datum.label : ''", "labelPadding": 6, "titlePadding": 9, "title": "Number of cycles, N"}},
            "y": {"field": "E", "type": "quantitative", "scale": {"domain": [20, 60]}, "axis": {"values": [20,25,30,35,40,45,50,55,60], "format": "d", "labelExpr": "datum.value % 10 === 0 ? datum.label : ''", "title": null}}
          },
          "layer": [
            {"mark": {"type": "line", "interpolate": "monotone", "color": "black", "strokeWidth": 1, "clip": false}, "encoding": {"detail": {"field": "f", "type": "nominal"}}},
            {"mark": {"type": "point", "filled": true, "stroke": "black", "strokeWidth": 1, "opacity": 1, "size": 360, "clip": false},
              "encoding": {
                "shape": {"field": "f", "type": "nominal", "scale": {"domain": [0, 10, 20, 30], "range": ["M0,-1L0.247,-0.34L0.951,-0.309L0.399,0.13L0.588,0.809L0,0.42L-0.588,0.809L-0.399,0.13L-0.951,-0.309L-0.247,-0.34Z", "M-0.85,-0.85L0.85,-0.85L0.85,0.85L-0.85,0.85Z", "M-0.8,-0.8L0.8,-0.8L0.8,0.8L-0.8,0.8Z", "M0,-0.85L0.95,0.75L-0.95,0.75Z"]},
                  "legend": {"title": "Dᵣ = 30%，CSR = 0.25", "legendX": 86, "legendY": 217, "labelExpr": "'FC=' + datum.label + '%'", "encode": {"symbols": {"update": {"stroke": {"value": "black"}, "strokeWidth": {"value": 1}}}, "title": {"update": {"dx": {"value": 27}}}}}},
                "fill": {"field": "f", "type": "nominal", "scale": {"domain": [0, 10, 20, 30], "range": ["white", "black", "white", "black"]},
                  "legend": {"title": "Dᵣ = 30%，CSR = 0.25", "legendX": 86, "legendY": 217, "labelExpr": "'FC=' + datum.label + '%'", "encode": {"symbols": {"update": {"stroke": {"value": "black"}, "strokeWidth": {"value": 1}}}, "title": {"update": {"dx": {"value": 27}}}}}}
              }}
          ]},
        {"width": 447, "height": 333, "transform": [{"filter": "datum.p === 'a3'"}],
          "encoding": {
            "x": {"field": "N", "type": "quantitative", "scale": {"domain": [0, 1000]}, "axis": {"values": [0,100,200,300,400,500,600,700,800,900,1000], "format": "d", "labelExpr": "datum.value % 200 === 0 ? datum.label : ''", "labelPadding": 6, "titlePadding": 9, "title": "Number of cycles, N"}},
            "y": {"field": "E", "type": "quantitative", "scale": {"domain": [10, 70]}, "axis": {"values": [10,15,20,25,30,35,40,45,50,55,60,65,70], "format": "d", "labelExpr": "datum.value % 10 === 0 ? datum.label : ''", "title": null}}
          },
          "layer": [
            {"mark": {"type": "line", "interpolate": "monotone", "color": "black", "strokeWidth": 1, "clip": false}, "encoding": {"detail": {"field": "f", "type": "nominal"}}},
            {"mark": {"type": "point", "filled": true, "stroke": "black", "strokeWidth": 1, "opacity": 1, "size": 360, "clip": false},
              "encoding": {
                "shape": {"field": "f", "type": "nominal", "scale": {"domain": [0, 10, 20, 30], "range": ["M0,-1L0.247,-0.34L0.951,-0.309L0.399,0.13L0.588,0.809L0,0.42L-0.588,0.809L-0.399,0.13L-0.951,-0.309L-0.247,-0.34Z", "M-0.85,-0.85L0.85,-0.85L0.85,0.85L-0.85,0.85Z", "M-0.8,-0.8L0.8,-0.8L0.8,0.8L-0.8,0.8Z", "M0,-0.85L0.95,0.75L-0.95,0.75Z"]},
                  "legend": {"title": "Dᵣ = 30%，CSR = 0.30", "legendX": 92, "legendY": 206, "labelExpr": "'FC=' + datum.label + '%'", "encode": {"symbols": {"update": {"stroke": {"value": "black"}, "strokeWidth": {"value": 1}}}, "title": {"update": {"dx": {"value": 27}}}}}},
                "fill": {"field": "f", "type": "nominal", "scale": {"domain": [0, 10, 20, 30], "range": ["white", "black", "white", "black"]},
                  "legend": {"title": "Dᵣ = 30%，CSR = 0.30", "legendX": 92, "legendY": 206, "labelExpr": "'FC=' + datum.label + '%'", "encode": {"symbols": {"update": {"stroke": {"value": "black"}, "strokeWidth": {"value": 1}}}, "title": {"update": {"dx": {"value": 27}}}}}}
              }}
          ]}
      ]
    },
    {
      "spacing": 39,
      "resolve": {"scale": {"shape": "independent", "fill": "independent"}},
      "vconcat": [
        {
          "title": {"text": "(b) Dᵣ = 50%", "orient": "bottom", "anchor": "middle", "offset": 41, "font": "Liberation Serif", "fontSize": 37, "fontWeight": "normal", "color": "black"},
          "spacing": 60, "bounds": "flush",
          "resolve": {"scale": {"shape": "independent", "fill": "independent"}},
          "hconcat": [
            {"width": 447, "height": 335, "transform": [{"filter": "datum.p === 'b1'"}],
              "encoding": {
                "x": {"field": "N", "type": "quantitative", "scale": {"domain": [0, 1000]}, "axis": {"values": [0,100,200,300,400,500,600,700,800,900,1000], "format": "d", "labelExpr": "datum.value % 200 === 0 ? datum.label : ''", "labelPadding": 7, "titlePadding": 5, "title": "Number of cycles, N"}},
                "y": {"field": "E", "type": "quantitative", "scale": {"domain": [55, 70]}, "axis": {"values": [55,57.5,60,62.5,65,67.5,70], "format": "d", "labelExpr": "datum.value % 5 === 0 ? datum.label : ''", "title": "Ed-N (MPa)"}}
              },
              "layer": [
                {"mark": {"type": "line", "interpolate": "monotone", "color": "black", "strokeWidth": 1, "clip": false}, "encoding": {"detail": {"field": "f", "type": "nominal"}}},
                {"mark": {"type": "point", "filled": true, "stroke": "black", "strokeWidth": 1, "opacity": 1, "size": 360, "clip": false},
                  "encoding": {
                    "shape": {"field": "f", "type": "nominal", "scale": {"domain": [0, 10, 20, 30], "range": ["M0,-1L0.247,-0.34L0.951,-0.309L0.399,0.13L0.588,0.809L0,0.42L-0.588,0.809L-0.399,0.13L-0.951,-0.309L-0.247,-0.34Z", "M-0.85,-0.85L0.85,-0.85L0.85,0.85L-0.85,0.85Z", "M-0.8,-0.8L0.8,-0.8L0.8,0.8L-0.8,0.8Z", "M0,-0.85L0.95,0.75L-0.95,0.75Z"]},
                      "legend": {"title": "Dᵣ = 50%，CSR = 0.20", "legendX": 77, "legendY": 221, "labelExpr": "'FC=' + datum.label + '%'", "encode": {"symbols": {"update": {"stroke": {"value": "black"}, "strokeWidth": {"value": 1}}}, "title": {"update": {"dx": {"value": 27}}}}}},
                    "fill": {"field": "f", "type": "nominal", "scale": {"domain": [0, 10, 20, 30], "range": ["white", "black", "white", "black"]},
                      "legend": {"title": "Dᵣ = 50%，CSR = 0.20", "legendX": 77, "legendY": 221, "labelExpr": "'FC=' + datum.label + '%'", "encode": {"symbols": {"update": {"stroke": {"value": "black"}, "strokeWidth": {"value": 1}}}, "title": {"update": {"dx": {"value": 27}}}}}}
                  }}
              ]},
            {"width": 450, "height": 335, "transform": [{"filter": "datum.p === 'b2'"}],
              "encoding": {
                "x": {"field": "N", "type": "quantitative", "scale": {"domain": [0, 1000]}, "axis": {"values": [0,100,200,300,400,500,600,700,800,900,1000], "format": "d", "labelExpr": "datum.value % 200 === 0 ? datum.label : ''", "labelPadding": 7, "titlePadding": 5, "title": "Number of cycles, N"}},
                "y": {"field": "E", "type": "quantitative", "scale": {"domain": [25, 65]}, "axis": {"values": [25,30,35,40,45,50,55,60,65], "format": "d", "labelExpr": "(datum.value - 25) % 10 === 0 ? datum.label : ''", "title": null}}
              },
              "layer": [
                {"mark": {"type": "line", "interpolate": "monotone", "color": "black", "strokeWidth": 1, "clip": false}, "encoding": {"detail": {"field": "f", "type": "nominal"}}},
                {"mark": {"type": "point", "filled": true, "stroke": "black", "strokeWidth": 1, "opacity": 1, "size": 360, "clip": false},
                  "encoding": {
                    "shape": {"field": "f", "type": "nominal", "scale": {"domain": [0, 10, 20, 30], "range": ["M0,-1L0.247,-0.34L0.951,-0.309L0.399,0.13L0.588,0.809L0,0.42L-0.588,0.809L-0.399,0.13L-0.951,-0.309L-0.247,-0.34Z", "M-0.85,-0.85L0.85,-0.85L0.85,0.85L-0.85,0.85Z", "M-0.8,-0.8L0.8,-0.8L0.8,0.8L-0.8,0.8Z", "M0,-0.85L0.95,0.75L-0.95,0.75Z"]},
                      "legend": {"title": "Dᵣ = 50%，CSR = 0.25", "legendX": 75, "legendY": 224, "labelExpr": "'FC=' + datum.label + '%'", "encode": {"symbols": {"update": {"stroke": {"value": "black"}, "strokeWidth": {"value": 1}}}, "title": {"update": {"dx": {"value": 27}}}}}},
                    "fill": {"field": "f", "type": "nominal", "scale": {"domain": [0, 10, 20, 30], "range": ["white", "black", "white", "black"]},
                      "legend": {"title": "Dᵣ = 50%，CSR = 0.25", "legendX": 75, "legendY": 224, "labelExpr": "'FC=' + datum.label + '%'", "encode": {"symbols": {"update": {"stroke": {"value": "black"}, "strokeWidth": {"value": 1}}}, "title": {"update": {"dx": {"value": 27}}}}}}
                  }}
              ]},
            {"width": 441, "height": 335, "transform": [{"filter": "datum.p === 'b3'"}],
              "encoding": {
                "x": {"field": "N", "type": "quantitative", "scale": {"domain": [0, 1000]}, "axis": {"values": [0,100,200,300,400,500,600,700,800,900,1000], "format": "d", "labelExpr": "datum.value % 200 === 0 ? datum.label : ''", "labelPadding": 7, "titlePadding": 5, "title": "Number of cycles, N"}},
                "y": {"field": "E", "type": "quantitative", "scale": {"domain": [20, 70]}, "axis": {"values": [20,25,30,35,40,45,50,55,60,65,70], "format": "d", "labelExpr": "datum.value % 10 === 0 ? datum.label : ''", "title": null}}
              },
              "layer": [
                {"mark": {"type": "line", "interpolate": "monotone", "color": "black", "strokeWidth": 1, "clip": false}, "encoding": {"detail": {"field": "f", "type": "nominal"}}},
                {"mark": {"type": "point", "filled": true, "stroke": "black", "strokeWidth": 1, "opacity": 1, "size": 360, "clip": false},
                  "encoding": {
                    "shape": {"field": "f", "type": "nominal", "scale": {"domain": [0, 10, 20, 30], "range": ["M0,-1L0.247,-0.34L0.951,-0.309L0.399,0.13L0.588,0.809L0,0.42L-0.588,0.809L-0.399,0.13L-0.951,-0.309L-0.247,-0.34Z", "M-0.85,-0.85L0.85,-0.85L0.85,0.85L-0.85,0.85Z", "M-0.8,-0.8L0.8,-0.8L0.8,0.8L-0.8,0.8Z", "M0,-0.85L0.95,0.75L-0.95,0.75Z"]},
                      "legend": {"title": "Dᵣ = 50%，CSR = 0.30", "legendX": 92, "legendY": 218, "labelExpr": "'FC=' + datum.label + '%'", "encode": {"symbols": {"update": {"stroke": {"value": "black"}, "strokeWidth": {"value": 1}}}, "title": {"update": {"dx": {"value": 27}}}}}},
                    "fill": {"field": "f", "type": "nominal", "scale": {"domain": [0, 10, 20, 30], "range": ["white", "black", "white", "black"]},
                      "legend": {"title": "Dᵣ = 50%，CSR = 0.30", "legendX": 92, "legendY": 218, "labelExpr": "'FC=' + datum.label + '%'", "encode": {"symbols": {"update": {"stroke": {"value": "black"}, "strokeWidth": {"value": 1}}}, "title": {"update": {"dx": {"value": 27}}}}}}
                  }}
              ]}
          ]
        },
        {
          "title": {"text": "(c) Dᵣ = 70%", "orient": "bottom", "anchor": "middle", "offset": 41, "font": "Liberation Serif", "fontSize": 37, "fontWeight": "normal", "color": "black"},
          "spacing": 61, "bounds": "flush",
          "resolve": {"scale": {"shape": "independent", "fill": "independent"}},
          "hconcat": [
            {"width": 441, "height": 337, "transform": [{"filter": "datum.p === 'c1'"}],
              "encoding": {
                "x": {"field": "N", "type": "quantitative", "scale": {"domain": [0, 1000]}, "axis": {"values": [0,100,200,300,400,500,600,700,800,900,1000], "format": "d", "labelExpr": "datum.value % 200 === 0 ? datum.label : ''", "labelPadding": 6, "titlePadding": 2, "title": "Number of cycles, N"}},
                "y": {"field": "E", "type": "quantitative", "scale": {"domain": [56, 70]}, "axis": {"values": [56,57,58,59,60,61,62,63,64,65,66,67,68,69,70], "format": "d", "labelExpr": "datum.value % 2 === 0 ? datum.label : ''", "title": "Ed-N (Mpa)"}}
              },
              "layer": [
                {"mark": {"type": "line", "interpolate": "monotone", "color": "black", "strokeWidth": 1, "clip": false}, "encoding": {"detail": {"field": "f", "type": "nominal"}}},
                {"mark": {"type": "point", "filled": true, "stroke": "black", "strokeWidth": 1, "opacity": 1, "size": 360, "clip": false},
                  "encoding": {
                    "shape": {"field": "f", "type": "nominal", "scale": {"domain": [0, 10, 20, 30], "range": ["M0,-1L0.247,-0.34L0.951,-0.309L0.399,0.13L0.588,0.809L0,0.42L-0.588,0.809L-0.399,0.13L-0.951,-0.309L-0.247,-0.34Z", "M-0.85,-0.85L0.85,-0.85L0.85,0.85L-0.85,0.85Z", "M-0.8,-0.8L0.8,-0.8L0.8,0.8L-0.8,0.8Z", "M0,-0.85L0.95,0.75L-0.95,0.75Z"]},
                      "legend": {"title": "Dᵣ = 70%，CSR = 0.20", "legendX": 73, "legendY": 209, "labelExpr": "'FC=' + datum.label + '%'", "encode": {"symbols": {"update": {"stroke": {"value": "black"}, "strokeWidth": {"value": 1}}}, "title": {"update": {"dx": {"value": 27}}}}}},
                    "fill": {"field": "f", "type": "nominal", "scale": {"domain": [0, 10, 20, 30], "range": ["white", "black", "white", "black"]},
                      "legend": {"title": "Dᵣ = 70%，CSR = 0.20", "legendX": 73, "legendY": 209, "labelExpr": "'FC=' + datum.label + '%'", "encode": {"symbols": {"update": {"stroke": {"value": "black"}, "strokeWidth": {"value": 1}}}, "title": {"update": {"dx": {"value": 27}}}}}}
                  }}
              ]},
            {"width": 450, "height": 337, "transform": [{"filter": "datum.p === 'c2'"}],
              "encoding": {
                "x": {"field": "N", "type": "quantitative", "scale": {"domain": [0, 1000]}, "axis": {"values": [0,100,200,300,400,500,600,700,800,900,1000], "format": "d", "labelExpr": "datum.value % 200 === 0 ? datum.label : ''", "labelPadding": 6, "titlePadding": 2, "title": "Number of cycles, N"}},
                "y": {"field": "E", "type": "quantitative", "scale": {"domain": [45, 70]}, "axis": {"values": [45,47.5,50,52.5,55,57.5,60,62.5,65,67.5,70], "format": "d", "labelExpr": "datum.value % 5 === 0 ? datum.label : ''", "title": null}}
              },
              "layer": [
                {"mark": {"type": "line", "interpolate": "monotone", "color": "black", "strokeWidth": 1, "clip": false}, "encoding": {"detail": {"field": "f", "type": "nominal"}}},
                {"mark": {"type": "point", "filled": true, "stroke": "black", "strokeWidth": 1, "opacity": 1, "size": 360, "clip": false},
                  "encoding": {
                    "shape": {"field": "f", "type": "nominal", "scale": {"domain": [0, 10, 20, 30], "range": ["M0,-1L0.247,-0.34L0.951,-0.309L0.399,0.13L0.588,0.809L0,0.42L-0.588,0.809L-0.399,0.13L-0.951,-0.309L-0.247,-0.34Z", "M-0.85,-0.85L0.85,-0.85L0.85,0.85L-0.85,0.85Z", "M-0.8,-0.8L0.8,-0.8L0.8,0.8L-0.8,0.8Z", "M0,-0.85L0.95,0.75L-0.95,0.75Z"]},
                      "legend": {"title": "Dᵣ = 70%，CSR = 0.25", "legendX": 72, "legendY": 201, "labelExpr": "'FC=' + datum.label + '%'", "encode": {"symbols": {"update": {"stroke": {"value": "black"}, "strokeWidth": {"value": 1}}}, "title": {"update": {"dx": {"value": 27}}}}}},
                    "fill": {"field": "f", "type": "nominal", "scale": {"domain": [0, 10, 20, 30], "range": ["white", "black", "white", "black"]},
                      "legend": {"title": "Dᵣ = 70%，CSR = 0.25", "legendX": 72, "legendY": 201, "labelExpr": "'FC=' + datum.label + '%'", "encode": {"symbols": {"update": {"stroke": {"value": "black"}, "strokeWidth": {"value": 1}}}, "title": {"update": {"dx": {"value": 27}}}}}}
                  }}
              ]},
            {"width": 448, "height": 337, "transform": [{"filter": "datum.p === 'c3'"}],
              "encoding": {
                "x": {"field": "N", "type": "quantitative", "scale": {"domain": [0, 1000]}, "axis": {"values": [0,100,200,300,400,500,600,700,800,900,1000], "format": "d", "labelExpr": "datum.value % 200 === 0 ? datum.label : ''", "labelPadding": 6, "titlePadding": 2, "title": "Number of cycles, N"}},
                "y": {"field": "E", "type": "quantitative", "scale": {"domain": [30, 75]}, "axis": {"values": [30,32.5,35,37.5,40,42.5,45,47.5,50,52.5,55,57.5,60,62.5,65,67.5,70,72.5,75], "format": "d", "labelExpr": "datum.value % 5 === 0 ? datum.label : ''", "title": null}}
              },
              "layer": [
                {"mark": {"type": "line", "interpolate": "monotone", "color": "black", "strokeWidth": 1, "clip": false}, "encoding": {"detail": {"field": "f", "type": "nominal"}}},
                {"mark": {"type": "point", "filled": true, "stroke": "black", "strokeWidth": 1, "opacity": 1, "size": 360, "clip": false},
                  "encoding": {
                    "shape": {"field": "f", "type": "nominal", "scale": {"domain": [0, 10, 20, 30], "range": ["M0,-1L0.247,-0.34L0.951,-0.309L0.399,0.13L0.588,0.809L0,0.42L-0.588,0.809L-0.399,0.13L-0.951,-0.309L-0.247,-0.34Z", "M-0.85,-0.85L0.85,-0.85L0.85,0.85L-0.85,0.85Z", "M-0.8,-0.8L0.8,-0.8L0.8,0.8L-0.8,0.8Z", "M0,-0.85L0.95,0.75L-0.95,0.75Z"]},
                      "legend": {"title": "Dᵣ = 70%，CSR = 0.30", "legendX": 94, "legendY": 193, "labelExpr": "'FC=' + datum.label + '%'", "encode": {"symbols": {"update": {"stroke": {"value": "black"}, "strokeWidth": {"value": 1}}}, "title": {"update": {"dx": {"value": 27}}}}}},
                    "fill": {"field": "f", "type": "nominal", "scale": {"domain": [0, 10, 20, 30], "range": ["white", "black", "white", "black"]},
                      "legend": {"title": "Dᵣ = 70%，CSR = 0.30", "legendX": 94, "legendY": 193, "labelExpr": "'FC=' + datum.label + '%'", "encode": {"symbols": {"update": {"stroke": {"value": "black"}, "strokeWidth": {"value": 1}}}, "title": {"update": {"dx": {"value": 27}}}}}}
                  }}
              ]}
          ]
        }
      ]
    }
  ]
}
